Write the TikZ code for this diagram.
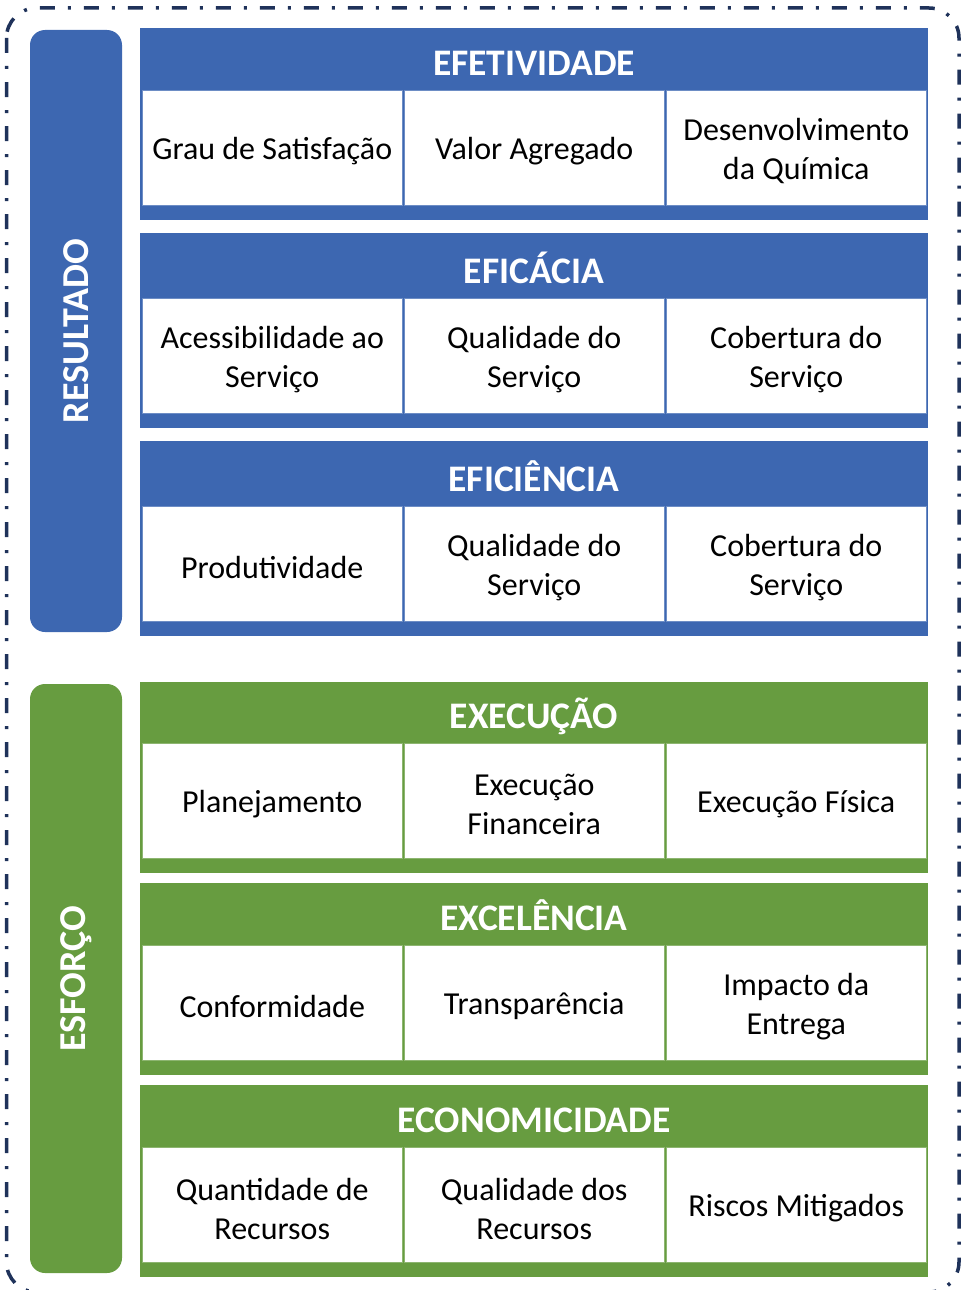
\documentclass[tikz,border=0pt]{standalone}
\usepackage{fontspec}
\setmainfont{Carlito}
\definecolor{bblue}{RGB}{61,103,177}
\definecolor{bgreen}{RGB}{103,156,64}
\definecolor{navy}{RGB}{31,50,90}
\tikzset{
  border/.style={draw=navy, line width=3.5pt, dash pattern=on 15pt off 13pt on 3pt off 13pt, rounded corners=30pt},
  hdr/.style={text=white, font=\fontsize{37.5}{40}\selectfont\bfseries, inner sep=0pt, anchor=base},
  cell/.style={fill=white, draw=#1!75!white, line width=1pt, minimum width=259.5pt, minimum height=115pt, inner sep=0pt},
  celltext/.style={align=center, text=black, inner sep=0pt, font=\fontsize{32}{39}\selectfont},
  bar/.style={fill=#1, rounded corners=15pt, rotate=90, minimum height=92pt, text=white, font=\fontsize{38}{40}\selectfont\bfseries, inner sep=0pt},
}
\newcommand\blk[8]{% name, top, cellstop, color, header, c1, c2, c3
  \fill[#4] (140,#2) rectangle (928,{#3+130});
  \node[hdr] (#1h) at (534,{#3-15}) {#5};
  \node[cell=#4] (#1a) at (272.25,{#3+57.5}) {};
  \node[cell=#4] (#1b) at (534.25,{#3+57.5}) {};
  \node[cell=#4] (#1c) at (796.25,{#3+57.5}) {};
  \node[celltext] (#1at) at ([yshift=-4pt]#1a.center) {#6};
  \node[celltext] (#1bt) at ([yshift=-4pt]#1b.center) {#7};
  \node[celltext] (#1ct) at ([yshift=-4pt]#1c.center) {#8};
}
\begin{document}
\begin{tikzpicture}[x=1pt,y=-1pt]
\useasboundingbox (0,0) rectangle (961,1290);
\draw[border] (6.5,8) rectangle (959,1292);
\node[bar=bblue, minimum width=602pt] (res) at (76,331) {RESULTADO};
\node[bar=bgreen, minimum width=589pt] (esf) at (76,978.5) {ESFORÇO};
\blk{e1}{28}{90}{bblue}{EFETIVIDADE}{Grau de Satisfação}{Valor Agregado}{Desenvolvimento\\da Química}
\blk{e2}{233}{298}{bblue}{EFICÁCIA}{Acessibilidade ao\\Serviço}{Qualidade do\\Serviço}{Cobertura do\\Serviço}
\blk{e3}{441}{506}{bblue}{EFICIÊNCIA}{Produtividade}{Qualidade do\\Serviço}{Cobertura do\\Serviço}
\blk{g1}{682}{743}{bgreen}{EXECUÇÃO}{Planejamento}{Execução\\Financeira}{Execução Física}
\blk{g2}{883}{945}{bgreen}{EXCELÊNCIA}{Conformidade}{Transparência}{Impacto da\\Entrega}
\blk{g3}{1085}{1147}{bgreen}{ECONOMICIDADE}{Quantidade de\\Recursos}{Qualidade dos\\Recursos}{Riscos Mitigados}
\end{tikzpicture}
\end{document}
